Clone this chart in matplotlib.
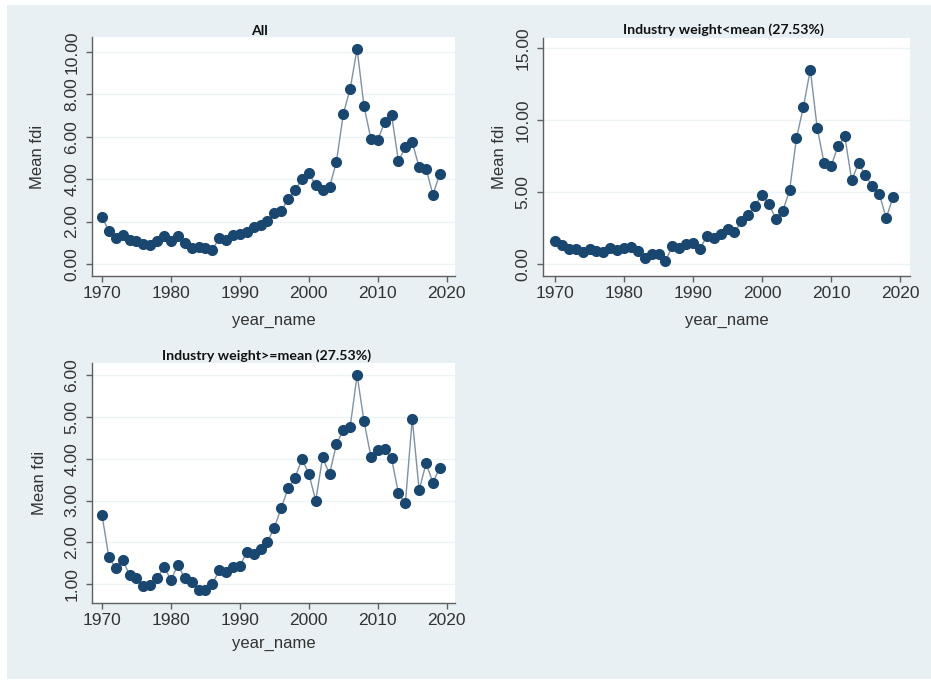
import matplotlib
matplotlib.use('Agg')
import matplotlib.pyplot as plt
from matplotlib.patches import Rectangle

years = list(range(1970, 2020))

fdi_all = [2.23, 1.54, 1.23, 1.38, 1.15, 1.07, 0.96, 0.88, 1.07, 1.30,
           1.07, 1.30, 0.99, 0.75, 0.79, 0.75, 0.64, 1.23, 1.15, 1.38,
           1.42, 1.49, 1.75, 1.86, 2.04, 2.41, 2.48, 3.08, 3.47, 4.01,
           4.29, 3.71, 3.51, 3.63, 4.81, 7.08, 8.27, 10.16, 7.44, 5.91,
           5.86, 6.68, 7.04, 4.84, 5.52, 5.74, 4.56, 4.50, 3.27, 4.26]

fdi_low = [1.57, 1.34, 1.06, 1.04, 0.83, 1.04, 0.93, 0.83, 1.11, 1.00,
           1.09, 1.16, 0.88, 0.42, 0.72, 0.72, 0.19, 1.23, 1.11, 1.39,
           1.46, 1.06, 1.92, 1.81, 2.11, 2.45, 2.20, 2.96, 3.43, 4.05,
           4.81, 4.17, 3.13, 3.66, 5.12, 8.75, 10.90, 13.50, 9.44, 7.01,
           6.78, 8.17, 8.87, 5.81, 7.01, 6.16, 5.39, 4.88, 3.19, 4.65]

fdi_high = [2.66, 1.64, 1.38, 1.58, 1.22, 1.14, 0.96, 0.98, 1.14, 1.42,
            1.10, 1.46, 1.14, 1.05, 0.86, 0.85, 1.00, 1.33, 1.29, 1.42,
            1.44, 1.76, 1.72, 1.84, 2.02, 2.35, 2.83, 3.29, 3.55, 3.99,
            3.64, 3.00, 4.03, 3.63, 4.35, 4.69, 4.77, 6.00, 4.90, 4.05,
            4.22, 4.23, 4.01, 3.17, 2.93, 4.96, 3.25, 3.89, 3.43, 3.79]

titles = ['All', 'Industry weight<mean (27.53%)', 'Industry weight>=mean (27.53%)']
x_ticks = [1970, 1980, 1990, 2000, 2010, 2020]

BG = '#e8f0f3'
NAVY = '#1a476f'
LINE = '#7f91a3'
AXIS = '#5f5f5f'
TEXT = '#333333'

plt.rcParams['font.family'] = ['Liberation Sans', 'DejaVu Sans']

W, H = 931, 682
fig = plt.figure(figsize=(W / 100, H / 100), dpi=100)
fig.patch.set_facecolor('white')
# light graph-region backdrop behind all three panels
fig.patches.append(Rectangle((7 / W, 3 / H), 1 - 7 / W, 1 - 8 / H,
                             transform=fig.transFigure, facecolor=BG,
                             edgecolor='none', zorder=-5))


def px_axes(left, top, right, bottom):
    return fig.add_axes([left / W, 1 - bottom / H, (right - left) / W, (bottom - top) / H])


def draw_panel(ax, values, xlim, ylim, yticks, title, title_xy, ylab_x, xlab_y):
    ax.set_facecolor('white')
    ax.plot(years, values, color=LINE, lw=1.0, zorder=2)
    ax.plot(years, values, 'o', color=NAVY, ms=7, mec=NAVY, zorder=3)
    ax.set_xlim(*xlim)
    ax.set_ylim(*ylim)
    ax.set_xticks(x_ticks)
    ax.set_yticks(yticks)
    ax.set_yticklabels(['%.2f' % v for v in yticks], rotation=90, va='center')
    ax.grid(axis='y', color='#edf2f4', lw=1.0, zorder=1)
    for s in ('top', 'right'):
        ax.spines[s].set_visible(False)
    for s in ('left', 'bottom'):
        ax.spines[s].set_color(AXIS)
        ax.spines[s].set_linewidth(1.0)
    ax.tick_params(axis='both', direction='out', length=4, width=1, color=AXIS,
                   labelsize=12.5, labelcolor=TEXT)
    ax.tick_params(axis='y', pad=5)
    ax.tick_params(axis='x', pad=3)
    ax.set_ylabel('Mean fdi', fontsize=12, color=TEXT)
    ax.set_xlabel('year_name', fontsize=12, color=TEXT)
    ax.yaxis.set_label_coords(ylab_x, 0.5)
    ax.xaxis.set_label_coords(0.5, xlab_y)
    fig.text(title_xy[0] / W, 1 - title_xy[1] / H, title, ha='center', va='center',
             fontsize=10.2, fontweight='bold', family=['Lato', 'DejaVu Sans'], color='#111111')


ax1 = px_axes(92, 37, 455, 276)
draw_panel(ax1, fdi_all, (1968.55, 2021.2), (-0.57, 10.71), [0, 2, 4, 6, 8, 10],
           titles[0], (259, 31), -0.13, -0.155)

ax2 = px_axes(543, 38, 910, 276)
draw_panel(ax2, fdi_low, (1968.26, 2021.45), (-0.83, 15.69), [0, 5, 10, 15],
           titles[1], (723, 30), -0.098, -0.155)

ax3 = px_axes(92, 363, 455, 603)
draw_panel(ax3, fdi_high, (1968.55, 2021.2), (0.55, 6.29), [1, 2, 3, 4, 5, 6],
           titles[2], (267, 356), -0.124, -0.138)

fig.savefig('out.png', dpi=100, facecolor=fig.get_facecolor())
